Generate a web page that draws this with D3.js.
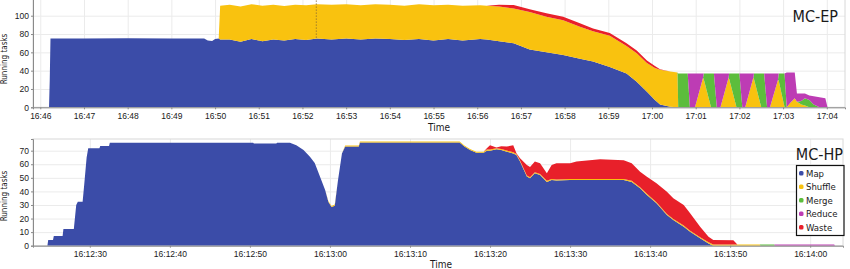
<!DOCTYPE html>
<html>
<head>
<meta charset="utf-8">
<script src="https://cdn.jsdelivr.net/npm/d3@7"></script>
<style>
  body { margin: 0; background: #fff; }
  svg { display: block; font-family: "DejaVu Sans Condensed", "DejaVu Sans", sans-serif; font-stretch: condensed; }
</style>
</head>
<body>
<svg id="chart" width="850" height="269"></svg>
<script>
/* 系列名と色 */
const seriesNames = ["Map", "Shuffle", "Merge", "Reduce", "Waste"];
const seriesColors = ["#3b4ca8", "#f9c20f", "#5cbd3c", "#bd3cb4", "#e8202a"];

/* MC-EP (上段) : 時刻と各系列の実行タスク数 */
const epTime = [
  "16:45:50", "16:46:12", "16:46:13", "16:46:14", "16:47:00", "16:48:00", "16:49:00", "16:49:45", "16:49:50", "16:49:56",
  "16:50:00", "16:50:05", "16:50:07", "16:50:20", "16:50:35", "16:50:50", "16:51:05", "16:51:20", "16:51:35", "16:51:50",
  "16:52:05", "16:52:20", "16:52:40", "16:53:00", "16:53:20", "16:53:40", "16:54:00", "16:54:20", "16:54:40", "16:55:00",
  "16:55:20", "16:55:40", "16:56:04", "16:56:13", "16:56:30", "16:56:50", "16:57:12", "16:57:35", "16:57:58", "16:58:21",
  "16:58:39", "16:59:02", "16:59:25", "16:59:39", "16:59:53", "17:00:04", "17:00:11", "17:00:25", "17:00:35", "17:00:36",
  "17:00:49", "17:00:52", "17:00:59", "17:01:10", "17:01:11", "17:01:21", "17:01:25", "17:01:29", "17:01:34", "17:01:45",
  "17:01:46", "17:01:56", "17:02:00", "17:02:04", "17:02:08", "17:02:19", "17:02:20", "17:02:30", "17:02:34", "17:02:38",
  "17:02:42", "17:02:53", "17:02:54", "17:03:02", "17:03:05", "17:03:10", "17:03:16", "17:03:19", "17:03:25", "17:03:30",
  "17:03:36", "17:03:42", "17:03:50", "17:03:58", "17:04:01", "17:04:25"
];
const epMap = [
  0, 0, 30, 75, 75, 75.5, 75, 75, 73, 72.5,
  74.5, 75, 74, 74, 71.5, 74.5, 72, 74, 73, 74.5,
  73.5, 75, 74, 75, 74, 75, 74.5, 73.5, 74.5, 73,
  74.5, 73, 74.5, 74, 72, 70, 63, 60, 57, 53,
  50, 44, 37, 28, 17, 8, 3, 0.5, 0, 0,
  0, 0, 0, 0, 0, 0, 0, 0, 0, 0,
  0, 0, 0, 0, 0, 0, 0, 0, 0, 0,
  0, 0, 0, 0, 0, 0, 0, 0, 0, 0,
  0, 0, 0, 0, 0, 0
];
const epShuffle = [
  0, 0, 0, 0, 0, 0, 0, 0, 0, 0,
  0, 0, 37, 38, 38.5, 38, 39, 38, 37.5, 37.5,
  38, 37.5, 38, 37.5, 37.5, 37.5, 37.5, 37.5, 38, 38.5,
  37.5, 38, 37, 37, 38, 38, 41, 39, 38, 35,
  33, 34, 30, 31, 31.5, 35, 38, 38.5, 38, 0,
  0, 0, 0, 32, 31, 0, 0, 0, 0, 32,
  31, 0, 0, 0, 0, 32, 31, 0, 0, 0,
  0, 30, 29, 0, 0, 5, 10, 6, 3, 2,
  0, 0, 0, 0, 0, 0
];
const epMerge = [
  0, 0, 0, 0, 0, 0, 0, 0, 0, 0,
  0, 0, 0, 0, 0, 0, 0, 0, 0, 0,
  0, 0, 0, 0, 0, 0, 0, 0, 0, 0,
  0, 0, 0, 0, 0, 0, 0, 0, 0, 0,
  0, 0, 0, 0, 0, 0, 0, 0, 0, 37,
  37, 0, 0, 0, 6, 37, 37, 0, 0, 0,
  6, 37, 37, 0, 0, 0, 6, 37, 37, 0,
  0, 0, 8, 37, 0, 0, 0, 0, 4, 8,
  8, 3, 0, 0, 0, 0
];
const epReduce = [
  0, 0, 0, 0, 0, 0, 0, 0, 0, 0,
  0, 0, 0, 0, 0, 0, 0, 0, 0, 0,
  0, 0, 0, 0, 0, 0, 0, 0, 0, 0,
  0, 0, 0, 0, 0, 0, 0, 0, 0, 0,
  0, 0, 0, 0, 0, 0, 0, 0, 0, 0,
  0, 37, 37, 5, 0, 0, 0, 37, 37, 5,
  0, 0, 0, 37, 37, 5, 0, 0, 0, 37,
  37, 7, 0, 0, 38, 33, 28, 9, 8, 5,
  5, 9, 11, 10, 0, 0
];
const epWaste = [
  0, 0, 0, 0, 0, 0, 0, 0, 0, 0,
  0, 0, 0, 0, 0, 0, 0, 0, 0, 0,
  0, 0, 0, 0, 0, 0, 0, 0, 0, 0,
  0, 0, 0, 0, 2, 3.7, 3, 3.6, 4, 3.7,
  3, 3, 3, 3, 2.5, 2, 0.5, 0, 0, 0,
  0, 0, 0, 0, 0, 0, 0, 0, 0, 0,
  0, 0, 0, 0, 0, 0, 0, 0, 0, 0,
  0, 0, 0, 0, 0, 0, 0, 0, 0, 0,
  0, 0, 0, 0, 0, 0
];
const epMarker = ["16:52:19"];   // 点線の位置
const epXTicks = ["16:46", "16:47", "16:48", "16:49", "16:50", "16:51", "16:52", "16:53", "16:54", "16:55",
  "16:56", "16:57", "16:58", "16:59", "17:00", "17:01", "17:02", "17:03", "17:04"];
const epYTicks = [0, 20, 40, 60, 80, 100];

/* MC-HP (下段) : 16:12:00 からの秒数と各系列 */
const hpSec = [
  22.9, 24.7, 24.8, 25.4, 25.5, 26.6, 26.7, 28.0, 28.3, 28.5,
  29.1, 29.3, 29.6, 29.8, 31.2, 31.3, 32.4, 32.5, 50.4, 50.5,
  53.3, 53.4, 55.0, 55.8, 56.7, 57.5, 58.1, 58.75, 59.4, 59.8,
  60.2, 60.6, 61.0, 61.5, 61.9, 63.6, 63.75, 76.2, 76.8, 77.5,
  78.3, 79.2, 79.6, 80.0, 80.8, 81.4, 82.1, 82.9, 83.3, 83.75,
  84.6, 85.0, 85.6, 86.25, 87.1, 87.7, 88.3, 90.0, 90.8, 93.75,
  96.7, 97.7, 98.75, 99.6, 100.8, 102.1, 102.9, 104.2, 105.0, 106.25,
  107.3, 107.9, 110.4, 110.9, 113.7, 113.8, 115.5, 115.6, 123.0, 123.1,
  124.1
];
const hpMap = [
  0, 0, 4.2, 4.2, 7.1, 7.1, 12.3, 12.3, 30, 32.4,
  32.4, 45, 65, 71.8, 71.8, 73.5, 73.5, 75.9, 75.9, 75.2,
  75.2, 75.9, 75.9, 74, 70.5, 65.6, 61, 51, 41, 32.4,
  28.5, 29.5, 48, 68, 73, 73, 76, 76, 73, 70.5,
  68.5, 68.5, 70, 70, 71, 70.5, 69.3, 68, 66.8, 62,
  51, 49.7, 53.3, 52, 47, 48.4, 48, 48.4, 48.4, 48.4,
  48.4, 47, 42.3, 37.4, 31.2, 22.6, 18.9, 14, 10.3, 5.4,
  1.7, 0, 0, 0, 0, 0, 0, 0, 0, 0,
  0
];
const hpShuffle = [
  0, 0, 0, 0, 0, 0, 0, 0, 0, 0,
  0, 0, 0, 0, 0, 0, 0, 0, 0, 0,
  0, 0, 0, 0, 0, 0, 0, 0, 0, 0.6,
  0.8, 0.8, 0, 0, 0.8, 0.8, 0.8, 0.8, 0.8, 0.8,
  0.8, 0.8, 0.8, 0.8, 0.8, 0.8, 0.8, 0.8, 0.8, 0.8,
  0.8, 0.8, 0.8, 0.8, 0.8, 0.8, 0.8, 0.8, 0.8, 0.8,
  0.8, 0.8, 0.8, 0.8, 0.8, 0.8, 0.8, 0.8, 0.8, 0.8,
  0.8, 0.8, 0.8, 0.8, 0.8, 0, 0, 0, 0, 0,
  0
];
const hpMerge = [
  0, 0, 0, 0, 0, 0, 0, 0, 0, 0,
  0, 0, 0, 0, 0, 0, 0, 0, 0, 0,
  0, 0, 0, 0, 0, 0, 0, 0, 0, 0,
  0, 0, 0, 0, 0, 0, 0, 0, 0, 0,
  0, 0, 0, 0, 0, 0, 0, 0, 0, 0,
  0, 0, 0, 0, 0, 0, 0, 0, 0, 0,
  0, 0, 0, 0, 0, 0, 0, 0, 0, 0,
  0, 0, 0, 0, 0, 0.8, 0.8, 0, 0, 0,
  0
];
const hpReduce = [
  0, 0, 0, 0, 0, 0, 0, 0, 0, 0,
  0, 0, 0, 0, 0, 0, 0, 0, 0, 0,
  0, 0, 0, 0, 0, 0, 0, 0, 0, 0,
  0, 0, 0, 0, 0, 0, 0, 0, 0, 0,
  0, 0, 0, 0, 0, 0, 0, 0, 0, 0,
  0, 0, 0, 0, 0, 0, 0, 0, 0, 0,
  0, 0, 0, 0, 0, 0, 0, 0, 0, 0,
  0, 0, 0, 0, 0, 0, 0, 0.8, 0.8, 0,
  0
];
const hpWaste = [
  0, 0, 0, 0, 0, 0, 0, 0, 0, 0,
  0, 0, 0, 0, 0, 0, 0, 0, 0, 0,
  0, 0, 0, 0, 0, 0, 0, 0, 0, 0,
  0, 0, 0, 0, 0, 0, 0, 0, 0, 0,
  0, 0, 1, 3.2, 0.5, 2, 2.9, 5.2, 0.5, 1.6,
  7.7, 7.5, 7.9, 7.9, 5.5, 10.3, 11.9, 11.5, 12.8, 14.5,
  13.8, 12.9, 11.4, 12.6, 14, 16.4, 15.2, 15.2, 12.8, 7.8,
  4.1, 3.4, 3.2, 0, 0, 0, 0, 0, 0, 0,
  0
];
const hpXTicks = ["16:12:30", "16:12:40", "16:12:50", "16:13:00", "16:13:10",
  "16:13:20", "16:13:30", "16:13:40", "16:13:50", "16:14:00"];
const hpYTicks = [0, 10, 20, 30, 40, 50, 60, 70];

const parseHM = d3.timeParse("%H:%M");
const parseHMS = d3.timeParse("%H:%M:%S");

let svg = d3.select("#chart");

/* 積み上げ面グラフ1枚分を描く */
function drawPanel(p) {
  let rows = p.times.map((t, i) => ({
    t: t,
    Map: p.series[0][i], Shuffle: p.series[1][i], Merge: p.series[2][i],
    Reduce: p.series[3][i], Waste: p.series[4][i]
  }));

  let x = d3.scaleTime().domain(p.xDomain).range([p.left, p.right]);
  let y = d3.scaleLinear().domain(p.yDomain).range([p.bottom, p.top]);

  let g = svg.append("g");
  let clipId = "clip-" + p.id;
  svg.append("clipPath").attr("id", clipId)
    .append("rect")
    .attr("x", p.left).attr("y", p.top)
    .attr("width", p.right - p.left).attr("height", p.bottom - p.top);

  /* グリッド */
  g.append("g")
    .attr("transform", "translate(0," + p.bottom + ")")
    .call(d3.axisBottom(x).tickValues(p.xTicks).tickSize(-(p.bottom - p.top)).tickFormat(""))
    .call(a => a.select(".domain").remove())
    .call(a => a.selectAll("line").attr("stroke", "#ebebeb"));
  g.append("g")
    .attr("transform", "translate(" + p.left + ",0)")
    .call(d3.axisLeft(y).tickValues(p.yTicks).tickSize(-(p.right - p.left)).tickFormat(""))
    .call(a => a.select(".domain").remove())
    .call(a => a.selectAll("line").attr("stroke", "#ebebeb"));

  /* 枠 */
  g.append("rect")
    .attr("x", p.left).attr("y", p.top)
    .attr("width", p.right - p.left).attr("height", p.bottom - p.top)
    .attr("fill", "none").attr("stroke", "#d8d8d8");

  /* 積み上げ */
  let stacked = d3.stack().keys(seriesNames)(rows);
  let area = d3.area()
    .x(d => x(d.data.t))
    .y0(d => y(d[0]))
    .y1(d => y(d[1]));

  g.append("g").attr("clip-path", "url(#" + clipId + ")")
    .selectAll("path")
    .data(stacked)
    .join("path")
    .attr("fill", (d, i) => seriesColors[i])
    .attr("d", area);

  /* 軸 */
  let xAxis = g.append("g")
    .attr("transform", "translate(0," + p.bottom + ")")
    .call(d3.axisBottom(x).tickValues(p.xTicks).tickSize(2).tickFormat(d3.timeFormat(p.xFormat)));
  let yAxis = g.append("g")
    .attr("transform", "translate(" + p.left + ",0)")
    .call(d3.axisLeft(y).tickValues(p.yTicks).tickSize(2));
  [xAxis, yAxis].forEach(a => {
    a.select(".domain").attr("stroke", "#8a8a8a");
    a.selectAll(".tick line").attr("stroke", "#8a8a8a");
    a.selectAll("text").attr("fill", "#1a1a1a").attr("font-size", "8.5px")
      .attr("font-family", null);
  });
  xAxis.selectAll("text").attr("dy", p.tickDy);
  yAxis.selectAll("text").attr("x", -4);

  /* ラベル */
  g.append("text")
    .attr("x", (p.left + p.right) / 2 + p.timeDx)
    .attr("y", p.bottom + p.timeDy)
    .attr("text-anchor", "middle")
    .attr("font-size", "10px")
    .attr("fill", "#1a1a1a")
    .text("Time");
  g.append("text")
    .attr("transform", "translate(7," + p.yLabelY + ") rotate(-90)")
    .attr("text-anchor", "middle")
    .attr("font-size", "8px")
    .attr("fill", "#1a1a1a")
    .text("Running tasks");
  g.append("text")
    .attr("x", p.titleX).attr("y", p.titleY)
    .attr("text-anchor", "end")
    .attr("font-size", "16px")
    .attr("fill", "#1a1a1a")
    .text(p.title);

  return { x: x, y: y, g: g };
}

/* 上段 MC-EP */
let ep = drawPanel({
  id: "ep", title: "MC-EP",
  times: epTime.map(parseHMS),
  series: [epMap, epShuffle, epMerge, epReduce, epWaste],
  xDomain: [parseHMS("16:45:50"), parseHMS("17:04:25")],
  yDomain: [0, 120],
  xTicks: epXTicks.map(parseHM), xFormat: "%H:%M",
  yTicks: epYTicks,
  left: 33, right: 845, top: -2.6, bottom: 107.3,
  tickDy: "0.82em", timeDx: 0, timeDy: 23.5, yLabelY: 59,
  titleX: 838, titleY: 22
});

/* 点線マーカー */
ep.g.selectAll(".marker")
  .data(epMarker.map(parseHMS))
  .join("line")
  .attr("x1", d => ep.x(d)).attr("x2", d => ep.x(d))
  .attr("y1", ep.y(120)).attr("y2", ep.y(75))
  .attr("stroke", "#8a6a30")
  .attr("stroke-width", 0.8)
  .attr("stroke-dasharray", "1.5,1.5");

/* 下段 MC-HP */
const hpBase = parseHMS("16:12:00");
let hp = drawPanel({
  id: "hp", title: "MC-HP",
  times: hpSec.map(s => d3.timeMillisecond.offset(hpBase, Math.round(s * 1000))),
  series: [hpMap, hpShuffle, hpMerge, hpReduce, hpWaste],
  xDomain: [d3.timeMillisecond.offset(hpBase, 22900), d3.timeMillisecond.offset(hpBase, 124100)],
  yDomain: [0, 78.6],
  xTicks: hpXTicks.map(parseHMS), xFormat: "%H:%M:%S",
  yTicks: hpYTicks,
  left: 33, right: 843, top: 139, bottom: 245.7,
  tickDy: "0.71em", timeDx: 3, timeDy: 22, yLabelY: 196,
  titleX: 843, titleY: 160
});

/* 凡例 */
let legend = svg.append("g").attr("transform", "translate(796.5,165.5)");
legend.append("rect")
  .attr("width", 47.5).attr("height", 70)
  .attr("fill", "#fff").attr("stroke", "#111").attr("stroke-width", 1.2);
let items = legend.selectAll(".item")
  .data(seriesNames)
  .join("g")
  .attr("transform", (d, i) => "translate(0," + (8 + i * 13.5) + ")");
items.append("rect")
  .attr("x", 2.5).attr("y", -2.5).attr("width", 4.5).attr("height", 4.5).attr("rx", 1.5)
  .attr("fill", (d, i) => seriesColors[i]);
items.append("text")
  .attr("x", 9.5).attr("y", 3.4)
  .attr("font-size", "9.5px")
  .attr("fill", "#1a1a1a")
  .text(d => d);
</script>
</body>
</html>
